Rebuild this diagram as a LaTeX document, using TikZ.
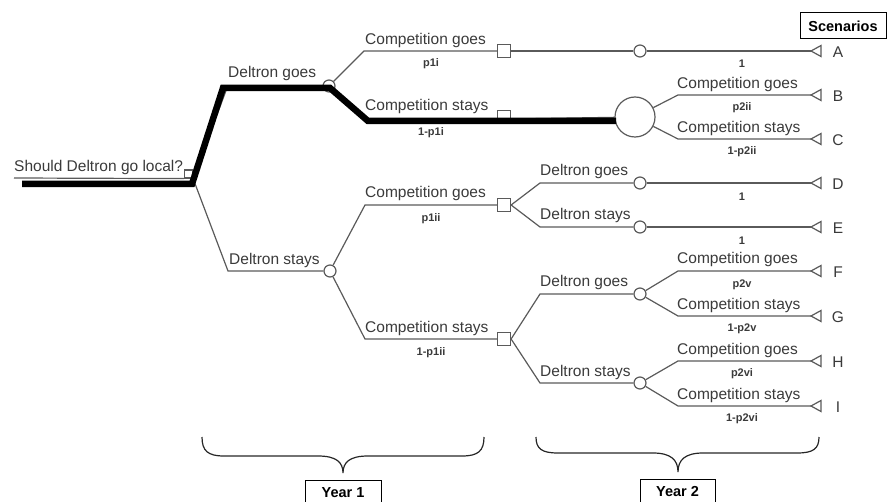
\documentclass[tikz,border=0pt]{standalone}
\usepackage{fontspec}
\setmainfont{Liberation Sans}
\definecolor{ln}{HTML}{5A5A5A}
\definecolor{tx}{HTML}{3A3A3A}
\begin{document}
\begin{tikzpicture}[x=1pt,y=-1pt,
  br/.style={draw=ln, line width=1.2pt},
  dec/.style={rectangle, draw=ln, fill=white, line width=1.2pt, minimum size=13pt, inner sep=0pt},
  chn/.style={circle, draw=ln, fill=white, line width=1.2pt, minimum size=12pt, inner sep=0pt},
  lab/.style={anchor=base west, inner sep=0pt, text=tx, font=\fontsize{15.5}{16}\selectfont},
  prob/.style={inner sep=0pt, text=tx, font=\fontsize{11}{12}\selectfont\bfseries},
  lett/.style={inner sep=0pt, text=tx, font=\fontsize{15.5}{16}\selectfont},
  hot/.style={draw=black, line width=6.5pt, line join=miter},
  boxlab/.style={draw=black, line width=1pt, inner sep=0pt, font=\fontsize{14.5}{15}\bfseries},
  brace/.style={draw=black!85, line width=1.2pt},
  termtri/.pic={\draw[draw=ln, line width=1.2pt, fill=white, line join=miter] (0,0) -- (10,-5.5) -- (10,5.5) -- cycle;}
]
\useasboundingbox (0,0) rectangle (888,502);

% ---- root decision
\coordinate (r0) at (14,178);
\node[dec, minimum size=8pt] (r) at (188.5,174) {};
\draw[br] (r0) -- (r.south west);
\node[lab] (qtxt) at (14,172) {Should Deltron go local?};

% ---- year 1: Deltron goes / stays
\coordinate (dg1) at (227,88);
\node[chn] (c1) at (329,86) {};
\draw[br] (r.south east) -- (dg1) -- (c1);
\node[lab] (ldg) at (228,78) {Deltron goes};

\coordinate (ds1) at (228,271);
\node[chn] (c2) at (330,271) {};
\draw[br] (r.south east) -- (ds1) -- (c2);
\node[lab] (lds) at (229,265) {Deltron stays};

% ---- competition after Deltron goes
\coordinate (cg1) at (364,51);
\node[dec] (s1) at (504,51) {};
\draw[br] (c1) -- (cg1) -- (s1.west);
\node[lab] (l1) at (365,45) {Competition goes};
\node[prob] (p1) at (431,64) {p1i};

\coordinate (cs1) at (366,119);
\node[dec] (s2) at (504,117) {};
\draw[br] (c1) -- (cs1) -- (s2.west |- cs1);
\node[lab] (l2) at (365,111) {Competition stays};
\node[prob] (p2) at (431,133) {1-p1i};

% ---- scenario A
\node[chn] (c3) at (640,51) {};
\coordinate (tA) at (811,51);
\draw[br] (s1.east) -- (c3);
\draw[br] (c3) -- (tA);
\pic at (tA) {termtri};
\node[prob] (pA) at (742,64) {1};

% ---- scenarios B, C
\node[circle, draw=ln, fill=white, line width=1.2pt, minimum size=40pt, inner sep=0pt] (big) at (635,117) {};
\draw[br] (s2.east |- cs1) -- (big);
\coordinate (b1) at (678,95);
\coordinate (tB) at (811,95);
\draw[br] (big) -- (b1) -- (tB);
\pic at (tB) {termtri};
\node[lab] (lB) at (677,89) {Competition goes};
\node[prob] (pB) at (742,108) {p2ii};
\coordinate (c1b) at (678,139);
\coordinate (tC) at (811,139);
\draw[br] (big) -- (c1b) -- (tC);
\pic at (tC) {termtri};
\node[lab] (lC) at (677,133) {Competition stays};
\node[prob] (pC) at (742,152) {1-p2ii};

% ---- competition after Deltron stays
\coordinate (cg2) at (365,205);
\node[dec] (s3) at (504,205) {};
\draw[br] (c2) -- (cg2) -- (s3.west);
\node[lab] (l3) at (365,198) {Competition goes};
\node[prob] (p3) at (431,219) {p1ii};

\coordinate (cs2) at (365,339);
\node[dec] (s4) at (504,339) {};
\draw[br] (c2) -- (cs2) -- (s4.west);
\node[lab] (l4) at (365,332) {Competition stays};
\node[prob] (p4) at (431,353) {1-p1ii};

% ---- D, E
\coordinate (dg2) at (540,183);
\node[chn] (c4) at (640,183) {};
\coordinate (tD) at (811,183);
\draw[br] (s3.east) -- (dg2) -- (c4);
\draw[br] (c4) -- (tD);
\pic at (tD) {termtri};
\node[lab] (lD) at (540,176) {Deltron goes};
\node[prob] (pD) at (742,197) {1};

\coordinate (ds2) at (540,227);
\node[chn] (c5) at (640,227) {};
\coordinate (tE) at (811,227);
\draw[br] (s3.east) -- (ds2) -- (c5);
\draw[br] (c5) -- (tE);
\pic at (tE) {termtri};
\node[lab] (lE) at (540,220) {Deltron stays};
\node[prob] (pE) at (742,241) {1};

% ---- F, G, H, I
\coordinate (dg3) at (540,294);
\node[chn] (c6) at (640,294) {};
\draw[br] (s4.east) -- (dg3) -- (c6);
\node[lab] (l6) at (540,287) {Deltron goes};

\coordinate (ds3) at (540,383);
\node[chn] (c7) at (640,383) {};
\draw[br] (s4.east) -- (ds3) -- (c7);
\node[lab] (l7) at (540,376) {Deltron stays};

\coordinate (f1) at (678,271);
\coordinate (tF) at (811,271);
\draw[br] (c6) -- (f1) -- (tF);
\pic at (tF) {termtri};
\node[lab] (lF) at (677,264) {Competition goes};
\node[prob] (pF) at (742,285) {p2v};

\coordinate (g1) at (678,316);
\coordinate (tG) at (811,316);
\draw[br] (c6) -- (g1) -- (tG);
\pic at (tG) {termtri};
\node[lab] (lG) at (677,309) {Competition stays};
\node[prob] (pG) at (742,329) {1-p2v};

\coordinate (h1) at (678,361);
\coordinate (tH) at (811,361);
\draw[br] (c7) -- (h1) -- (tH);
\pic at (tH) {termtri};
\node[lab] (lH) at (677,354) {Competition goes};
\node[prob] (pH) at (742,374) {p2vi};

\coordinate (i1) at (678,406);
\coordinate (tI) at (811,406);
\draw[br] (c7) -- (i1) -- (tI);
\pic at (tI) {termtri};
\node[lab] (lI) at (677,399) {Competition stays};
\node[prob] (pI) at (742,419) {1-p2vi};

% ---- scenario letters
\foreach \nm/\yy in {A/52,B/96,C/140,D/184,E/228,F/272,G/317,H/362,I/407}
  \node[lett] (let\nm) at (838,\yy) {\nm};
\node[boxlab, minimum width=86pt, minimum height=26pt] (scen) at (843,26) {Scenarios};

% ---- highlighted path
\coordinate (k0) at (22,184);
\coordinate (k1) at (192,184);
\coordinate (k2) at (223,88);
\coordinate (k3) at (330,88);
\coordinate (k4) at (368,121);
\coordinate (k5) at (616,121);
\draw[hot] (k0) -- (k1) -- (k2) -- (k3) -- (k4) -- (k5);

% ---- braces
\draw[brace] (202,437) .. controls (202,451) and (208,456) .. (224,456)
  -- (318,456) .. controls (336,456) and (343,462) .. (343,473)
  .. controls (343,462) and (350,456) .. (368,456)
  -- (462,456) .. controls (478,456) and (484,451) .. (484,437);
\draw[brace] (536,437) .. controls (536,449) and (542,453) .. (558,453)
  -- (653,453) .. controls (671,453) and (678,460) .. (678,472)
  .. controls (678,460) and (685,453) .. (703,453)
  -- (797,453) .. controls (813,453) and (819,449) .. (819,437);
\node[boxlab, minimum width=76pt, minimum height=26pt] (y1) at (343,493) {Year 1};
\node[boxlab, minimum width=75pt, minimum height=26pt] (y2) at (677.5,492) {Year 2};
\end{tikzpicture}
\end{document}
